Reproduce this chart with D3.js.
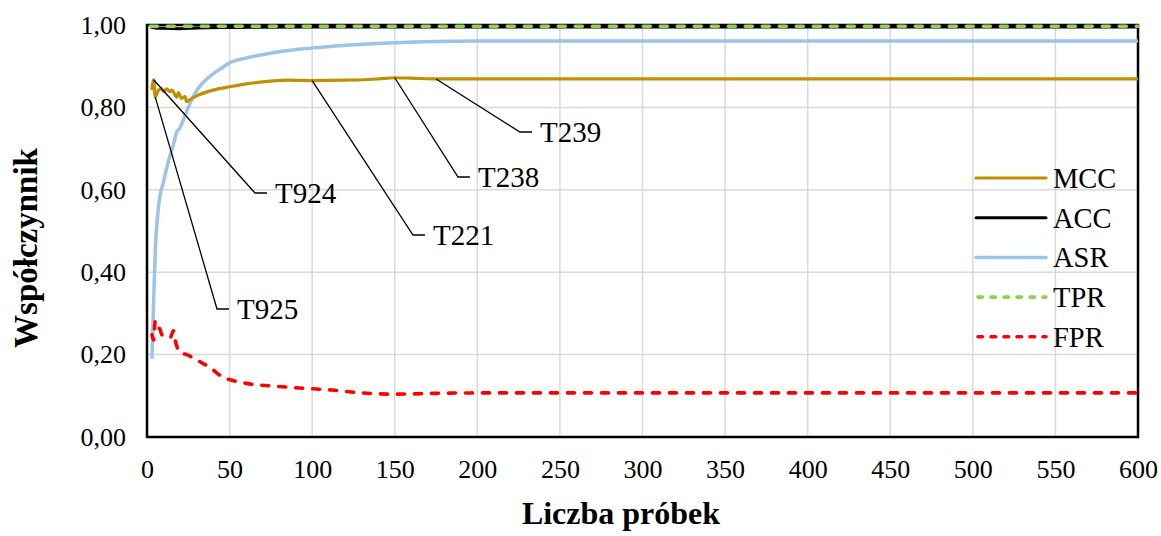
<!DOCTYPE html>
<html>
<head>
<meta charset="utf-8">
<script src="https://cdn.jsdelivr.net/npm/d3@7"></script>
<style>
  html, body { margin: 0; padding: 0; background: #fff; }
  svg { display: block; font-family: "Liberation Serif", "Times New Roman", serif; }
</style>
</head>
<body>
<svg id="chart" width="1161" height="536"></svg>
<script>
// Sample counts (x) and metric values for each series
const mccX = [3, 4, 5, 7, 9, 10, 12, 14, 15, 18, 19, 21, 23, 24, 26, 30, 40, 50, 60, 70, 85, 100, 120, 140, 150, 160, 175, 200, 300, 400, 500, 600];
const mccY = [0.842, 0.867, 0.825, 0.842, 0.845, 0.838, 0.845, 0.838, 0.842, 0.825, 0.836, 0.822, 0.826, 0.814, 0.819, 0.828, 0.842, 0.850, 0.857, 0.862, 0.866, 0.865, 0.866, 0.869, 0.872, 0.871, 0.869, 0.869, 0.869, 0.869, 0.869, 0.869];

const accX = [2, 5, 10, 20, 30, 50, 100, 200, 600];
const accY = [0.995, 0.993, 0.992, 0.991, 0.993, 0.994, 0.995, 0.995, 0.995];

const asrX = [3, 4, 5, 7, 10, 13, 16, 18, 20, 22, 25, 30, 38, 45, 50, 60, 70, 80, 100, 125, 150, 175, 200, 300, 400, 500, 600];
const asrY = [0.19, 0.33, 0.45, 0.56, 0.62, 0.67, 0.71, 0.74, 0.75, 0.77, 0.80, 0.84, 0.875, 0.895, 0.908, 0.920, 0.928, 0.935, 0.944, 0.952, 0.957, 0.960, 0.961, 0.961, 0.961, 0.961, 0.961];

const tprX = [2, 50, 100, 200, 300, 400, 500, 600];
const tprY = [0.997, 0.997, 0.997, 0.997, 0.997, 0.997, 0.997, 0.997];

const fprX = [3, 4, 5, 6, 8, 9, 11, 14, 16, 17, 19, 21, 24, 31, 38, 46, 52, 62, 75, 100, 112, 130, 150, 175, 200, 300, 400, 500, 600];
const fprY = [0.248, 0.235, 0.282, 0.27, 0.26, 0.248, 0.245, 0.241, 0.258, 0.236, 0.211, 0.204, 0.200, 0.185, 0.169, 0.145, 0.137, 0.129, 0.124, 0.117, 0.114, 0.107, 0.104, 0.106, 0.107, 0.107, 0.107, 0.107, 0.107];

const seriesNames = ["MCC", "ACC", "ASR", "TPR", "FPR"];
const xTicks = [0, 50, 100, 150, 200, 250, 300, 350, 400, 450, 500, 550, 600];
const yTicks = [0, 0.2, 0.4, 0.6, 0.8, 1.0];

// Pointer labels for selected MCC samples
const noteLabels = ["T925", "T924", "T221", "T238", "T239"];
const noteAt = [5, 4, 100, 150, 175];

const svg = d3.select("#chart");
const m = { left: 147, right: 1161 - 1138, top: 25, bottom: 536 - 437 };
const W = 1161 - m.left - m.right;
const H = 536 - m.top - m.bottom;

const x = d3.scaleLinear().domain([0, 600]).range([m.left, m.left + W]);
const y = d3.scaleLinear().domain([0, 1]).range([m.top + H, m.top]);

// Gridlines
svg.append("g")
  .selectAll("line").data(xTicks.slice(1, -1)).join("line")
  .attr("x1", d => x(d)).attr("x2", d => x(d))
  .attr("y1", y(0)).attr("y2", y(1))
  .attr("stroke", "#d9d9d9").attr("stroke-width", 1.5);
svg.append("g")
  .selectAll("line").data(yTicks.slice(1, -1)).join("line")
  .attr("x1", x(0)).attr("x2", x(600))
  .attr("y1", d => y(d)).attr("y2", d => y(d))
  .attr("stroke", "#d9d9d9").attr("stroke-width", 1.5);

// Axes (labels only, no tick marks)
const fmt = d => d3.format(".2f")(d).replace(".", ",");
const xAxis = svg.append("g").attr("transform", `translate(0,${y(0)})`)
  .call(d3.axisBottom(x).tickValues(xTicks).tickSize(0).tickPadding(23).tickFormat(d3.format("d")));
const yAxis = svg.append("g").attr("transform", `translate(${x(0)},0)`)
  .call(d3.axisLeft(y).tickValues(yTicks).tickSize(0).tickPadding(21).tickFormat(fmt));
[xAxis, yAxis].forEach(g => {
  g.select(".domain").remove();
  g.selectAll("text").attr("font-family", "Liberation Serif").attr("font-size", 26).attr("fill", "#000");
});

// Plot frame
svg.append("rect")
  .attr("x", x(0)).attr("y", y(1)).attr("width", W).attr("height", H)
  .attr("fill", "none").attr("stroke", "#000").attr("stroke-width", 2.5);

const line = d3.line().x(d => x(d[0])).y(d => y(d[1])).curve(d3.curveMonotoneX);
const zip = (a, b) => a.map((v, i) => [v, b[i]]);

const styles = {
  MCC: { data: zip(mccX, mccY), color: "#bf9000", width: 3.2, dash: null },
  ACC: { data: zip(accX, accY), color: "#000000", width: 3, dash: null },
  ASR: { data: zip(asrX, asrY), color: "#9dc3e6", width: 3.5, dash: null },
  TPR: { data: zip(tprX, tprY), color: "#92d050", width: 3.6, dash: "7,10" },
  FPR: { data: zip(fprX, fprY), color: "#ff0000", width: 3.6, dash: "7,10" }
};

const drawOrder = ["ASR", "MCC", "FPR", "ACC", "TPR"];
drawOrder.forEach(k => {
  const s = styles[k];
  svg.append("path").datum(s.data)
    .attr("d", line)
    .attr("fill", "none")
    .attr("stroke", s.color)
    .attr("stroke-width", s.width)
    .attr("stroke-linejoin", "round")
    .attr("stroke-linecap", s.dash ? "round" : "butt")
    .attr("stroke-dasharray", s.dash);
});

// Pointer annotations: leader from the MCC curve to an elbow, then the label
const mccAt = xv => mccY[mccX.indexOf(xv)];
const elbows = [[217, 309], [255, 193], [413, 235], [458, 177], [520, 132]];
noteLabels.forEach((lab, i) => {
  const px = x(noteAt[i]), py = y(mccAt(noteAt[i]));
  const [ex, ey] = elbows[i];
  svg.append("polyline")
    .attr("points", `${px},${py} ${ex},${ey} ${ex + 12},${ey}`)
    .attr("fill", "none").attr("stroke", "#000").attr("stroke-width", 1.3);
  svg.append("text")
    .attr("x", ex + 20).attr("y", ey + 10)
    .attr("font-size", 29).attr("fill", "#000")
    .text(lab);
});

// Legend
const legX = 976, legY0 = 178, legStep = 39.7;
seriesNames.forEach((k, i) => {
  const s = styles[k];
  const ly = legY0 + i * legStep;
  svg.append("line")
    .attr("x1", legX + (s.dash ? 2 : 0)).attr("x2", legX + 70).attr("y1", ly).attr("y2", ly)
    .attr("stroke", s.color).attr("stroke-width", s.width)
    .attr("stroke-linecap", "round")
    .attr("stroke-dasharray", s.dash ? "4.5,8.5" : null);
  svg.append("text")
    .attr("x", legX + 77).attr("y", ly + 10)
    .attr("font-size", 28.5).attr("fill", "#000")
    .text(k);
});

// Axis titles
svg.append("text")
  .attr("x", 621).attr("y", 524)
  .attr("text-anchor", "middle").attr("font-weight", "bold").attr("font-size", 32)
  .text("Liczba próbek");
svg.append("text")
  .attr("transform", `translate(37,248) rotate(-90)`)
  .attr("text-anchor", "middle").attr("font-weight", "bold").attr("font-size", 33)
  .text("Współczynnik");
</script>
</body>
</html>
